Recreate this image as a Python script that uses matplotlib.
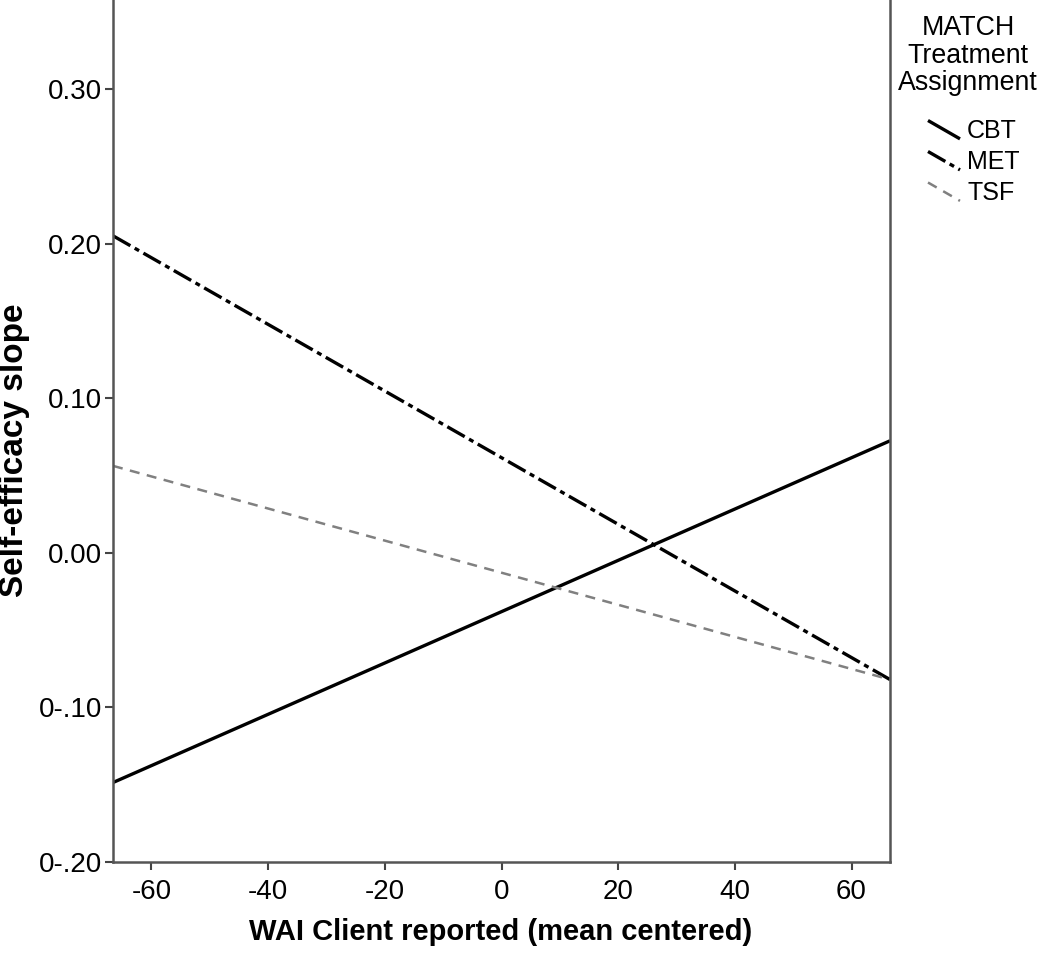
import matplotlib
matplotlib.use("Agg")
import matplotlib.pyplot as plt
from matplotlib.lines import Line2D
from matplotlib.legend_handler import HandlerBase

plt.rcParams['font.family'] = ['Liberation Sans', 'DejaVu Sans']

# Data (endpoints of fitted lines)
x_vals = [-66.6, 66.6]
cbt = [-0.1486, 0.0724]
met = [0.205, -0.082]
tsf = [0.0562, -0.082]
series_names = ["CBT", "MET", "TSF"]
x_ticks = [-60, -40, -20, 0, 20, 40, 60]
y_ticks = [-0.20, -0.10, 0.00, 0.10, 0.20, 0.30]
y_tick_labels = ["0-.20", "0-.10", "0.00", "0.10", "0.20", "0.30"]

fig = plt.figure(figsize=(10.5, 9.55), dpi=100)
ax = fig.add_axes([113/1050, 1 - 862/955, (890-113)/1050, 862/955 + 0.01])

l1, = ax.plot(x_vals, cbt, color='black', lw=2.4, solid_capstyle='butt', label=series_names[0])
l2, = ax.plot(x_vals, met, color='black', lw=2.4, linestyle=(0, (6, 1.5, 1.5, 1.5)), label=series_names[1])
l3, = ax.plot(x_vals, tsf, color='#808080', lw=1.8, linestyle=(0, (4, 3)), label=series_names[2])

ax.set_xlim(-66.6, 66.6)
ax.set_ylim(-0.20, 0.3575 + 0.01 * 955 / 1547.5)
ax.set_xticks(x_ticks)
ax.set_xticklabels([str(t) for t in x_ticks])
ax.set_yticks(y_ticks)
ax.set_yticklabels(y_tick_labels)
ax.tick_params(axis='both', labelsize=20, length=6, width=1.5, color='#444444')
ax.tick_params(axis='x', pad=6)
ax.tick_params(axis='y', pad=2)
for s in ax.spines.values():
    s.set_color('#555555')
    s.set_linewidth(1.8)
ax.spines['top'].set_visible(False)

ax.set_xlabel("WAI Client reported (mean centered)", fontsize=21, fontweight='bold')
ax.xaxis.label.set_va('center')
ax.xaxis.set_label_coords(501/1050, 1 - 932/955, transform=fig.transFigure)
ax.set_ylabel("Self-efficacy slope", fontsize=24, fontweight='bold')
ax.yaxis.label.set_va('center')
ax.yaxis.set_label_coords(15/1050, 1 - 450/955, transform=fig.transFigure)


class DiagHandler(HandlerBase):
    def create_artists(self, legend, orig_handle, xdescent, ydescent, width, height, fontsize, trans):
        line = Line2D([0, 1], [0, 1])
        line.update_from(orig_handle)
        line.set_clip_on(False)
        line.set_clip_box(None)
        line.set_clip_path(None)
        line.set_data([-xdescent, -xdescent + width], [-ydescent + height * 1.0, -ydescent - height * 0.05])
        line.set_transform(trans)
        return [line]


fig.text(968/1050, 1 - 15/955, "MATCH\nTreatment\nAssignment", ha='center', va='top',
         multialignment='center', fontsize=19.3, linespacing=1.08)

leg = fig.legend(handles=[l1, l2, l3],
                 loc='upper left', bbox_to_anchor=(928/1050, 1 - 119/955), frameon=False,
                 fontsize=18, handlelength=1.28, handleheight=0.7, handletextpad=0.28,
                 labelspacing=0.28, borderpad=0, borderaxespad=0,
                 handler_map={Line2D: DiagHandler()})

fig.savefig("out.png", dpi=100)
